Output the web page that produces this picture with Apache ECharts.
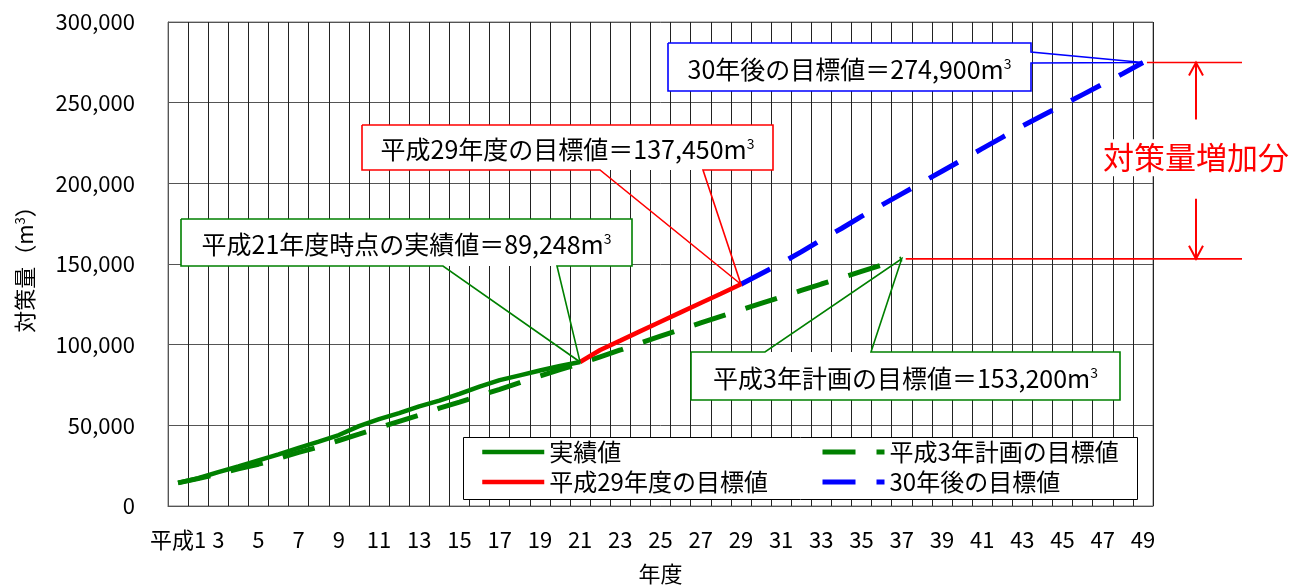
<!DOCTYPE html>
<html>
<head>
<meta charset="utf-8">
<script src="https://cdn.jsdelivr.net/npm/echarts@6/dist/echarts.min.js"></script>
<style>
  html, body { margin: 0; padding: 0; background: #fff; }
  #chart { width: 1302px; height: 585px; }
</style>
</head>
<body>
<div id="chart"></div>
<script>
  // 年度 (平成1 .. 49)
  const years = ['平成1', '2', '3', '4', '5', '6', '7', '8', '9', '10',
    '11', '12', '13', '14', '15', '16', '17', '18', '19', '20',
    '21', '22', '23', '24', '25', '26', '27', '28', '29', '30',
    '31', '32', '33', '34', '35', '36', '37', '38', '39', '40',
    '41', '42', '43', '44', '45', '46', '47', '48', '49']

  // 実績値 H1 - H21
  const actual = [14300, 17200, 21000, 24500, 28300, 32000, 36000, 39900, 44000, 49500,
    53800, 57600, 61800, 65300, 69500, 74000, 78000, 81000, 84000, 86800, 89248]
  const actualStart = 1

  // 平成29年度の目標値 H21 - H29
  const target29 = [89248, 96700, 102500, 108400, 114200, 120000, 125800, 131600, 137450]
  const target29Start = 21

  // 平成3年計画の目標値 H1 - H37
  const plan3 = [14300, 17000, 19800, 23000, 25900, 29500, 33200, 36600, 40600, 44500,
    48500, 52500, 56300, 60600, 64400, 68400, 72300, 76400, 80500, 84500,
    88200, 92500, 96700, 101000, 105300, 109400, 113500, 117600, 121600, 125600,
    129600, 133600, 137600, 141500, 145400, 149300, 153200]
  const plan3Start = 1

  // 30年後の目標値 H29 - H49
  const target30 = [137450, 144000, 150500, 157500, 165000, 172000, 179500, 186500, 193500, 200500,
    207500, 214500, 221500, 228500, 235500, 242000, 248500, 255000, 261500, 268000, 274900]
  const target30Start = 29

  const FONT = "'Noto Sans CJK JP', sans-serif"
  const GREEN = '#008000'
  const RED = '#ff0000'
  const BLUE = '#0000ff'
  const DASH = [33, 21]

  function toPairs (arr, start) {
    return arr.map(function (v, i) { return [start - 1 + i, v] })
  }

  let chart = echarts.init(document.getElementById('chart'))

  let legendBase = {
    orient: 'vertical',
    top: 440, padding: 0,
    itemWidth: 62, itemHeight: 14, itemGap: 6,
    selectedMode: false,
    itemStyle: { opacity: 0 },
    lineStyle: { width: 'inherit', type: 'inherit' },
    textStyle: { fontSize: 24, color: '#000', fontFamily: FONT },
    z: 20
  }

  let options = {
    animation: false,
    backgroundColor: '#fff',
    grid: {
      left: 168, right: 149, top: 22, bottom: 79,
      outerBoundsMode: 'none',
      show: true, borderColor: '#7f7f7f', borderWidth: 1
    },
    xAxis: {
      type: 'category',
      data: years,
      boundaryGap: true,
      name: '年度',
      nameLocation: 'middle',
      nameGap: 57,
      nameTextStyle: { fontSize: 22, color: '#000', fontFamily: FONT },
      axisLine: { lineStyle: { color: '#555' } },
      axisTick: { show: false, interval: 0 },
      axisLabel: { interval: 1, margin: 23, fontSize: 22, color: '#000', fontFamily: FONT },
      splitLine: { show: true, interval: 0, lineStyle: { color: '#222', width: 1 } }
    },
    yAxis: {
      type: 'value',
      min: 0,
      max: 300000,
      interval: 50000,
      name: '対策量（m{s|3}）',
      nameLocation: 'middle',
      nameRotate: 90,
      nameGap: 132,
      nameTextStyle: {
        fontSize: 22, color: '#000', fontFamily: FONT,
        rich: { s: { fontSize: 13, verticalAlign: 'top', color: '#000', fontFamily: FONT } }
      },
      axisLine: { show: true, lineStyle: { color: '#555' } },
      axisTick: { show: false },
      axisLabel: {
        margin: 33, fontSize: 22, color: '#000', fontFamily: FONT,
        formatter: function (v) { return v.toLocaleString('en-US') }
      },
      splitLine: { lineStyle: { color: '#555', width: 1 } }
    },
    legend: [
      Object.assign({}, legendBase, { data: ['実績値', '平成29年度の目標値'], left: 480 }),
      Object.assign({}, legendBase, { data: ['平成3年計画の目標値', '30年後の目標値'], left: 820 })
    ],
    series: [
      {
        name: '実績値', type: 'line', symbol: 'none', z: 4,
        data: toPairs(actual, actualStart),
        itemStyle: { color: GREEN },
        lineStyle: { color: GREEN, width: 4.5 }
      },
      {
        name: '平成29年度の目標値', type: 'line', symbol: 'none', z: 4,
        data: toPairs(target29, target29Start),
        itemStyle: { color: RED },
        lineStyle: { color: RED, width: 4.5 }
      },
      {
        name: '平成3年計画の目標値', type: 'line', symbol: 'none', z: 3,
        data: toPairs(plan3, plan3Start),
        itemStyle: { color: GREEN },
        lineStyle: { color: GREEN, width: 5, type: DASH }
      },
      {
        name: '30年後の目標値', type: 'line', symbol: 'none', z: 3,
        data: toPairs(target30, target30Start),
        itemStyle: { color: BLUE },
        lineStyle: { color: BLUE, width: 5, type: DASH }
      }
    ]
  }
  chart.setOption(options)

  // callout: box [x0, y0, x1, y1], pointer base on one side, tip at a data point
  function callout (box, side, base, tip, color, label) {
    let x0 = box[0], y0 = box[1], x1 = box[2], y1 = box[3]
    let pts
    if (side === 'bottom') {
      pts = [[x0, y0], [x1, y0], [x1, y1], [base[1], y1], tip, [base[0], y1], [x0, y1], [x0, y0]]
    } else if (side === 'top') {
      pts = [[x0, y0], [base[0], y0], tip, [base[1], y0], [x1, y0], [x1, y1], [x0, y1], [x0, y0]]
    } else {
      pts = [[x0, y0], [x1, y0], [x1, base[0]], tip, [x1, base[1]], [x1, y1], [x0, y1], [x0, y0]]
    }
    return [
      { type: 'rect', z: 10, silent: true,
        shape: { x: x0, y: y0, width: x1 - x0, height: y1 - y0 },
        style: { fill: '#fff', stroke: null } },
      { type: 'polyline', z: 11, silent: true,
        shape: { points: pts },
        style: { stroke: color, lineWidth: 1.6, fill: null } },
      { type: 'text', z: 12, silent: true,
        x: (x0 + x1) / 2, y: (y0 + y1) / 2 + 2,
        style: {
          text: '{t|' + label + 'm}{s|3}',
          align: 'center', verticalAlign: 'middle',
          fill: '#000', font: '25px ' + FONT,
          rich: {
            t: { fontSize: 25, fontFamily: FONT, fill: '#000' },
            s: { fontSize: 14, fontFamily: FONT, fill: '#000', verticalAlign: 'top' }
          }
        } }
    ]
  }

  function drawNotes () {
    let p21 = chart.convertToPixel({ gridIndex: 0 }, [target29Start - 1, target29[0]])
    let p29 = chart.convertToPixel({ gridIndex: 0 }, [target29Start - 1 + target29.length - 1, target29[target29.length - 1]])
    let p37 = chart.convertToPixel({ gridIndex: 0 }, [plan3Start - 1 + plan3.length - 1, plan3[plan3.length - 1]])
    let p49 = chart.convertToPixel({ gridIndex: 0 }, [target30Start - 1 + target30.length - 1, target30[target30.length - 1]])

    let topY = p49[1]
    let botY = p37[1]
    let ax = 1196

    let g = []
    g = g.concat(callout([181, 219, 632, 266], 'bottom', [443, 557], p21, GREEN, '平成21年度時点の実績値＝89,248'))
    g = g.concat(callout([362, 125, 773, 170], 'bottom', [600, 703], p29, RED, '平成29年度の目標値＝137,450'))
    g = g.concat(callout([668, 43, 1031, 91], 'right', [52, 63], p49, BLUE, '30年後の目標値＝274,900'))
    g = g.concat(callout([691, 352, 1120, 400], 'top', [765, 871], p37, GREEN, '平成3年計画の目標値＝153,200'))

    // 対策量増加分
    g.push(
      { type: 'line', z: 10, silent: true, shape: { x1: p49[0] + 4, y1: topY, x2: 1242, y2: topY }, style: { stroke: RED, lineWidth: 1.6 } },
      { type: 'line', z: 10, silent: true, shape: { x1: p37[0] + 4, y1: botY, x2: 1242, y2: botY }, style: { stroke: RED, lineWidth: 1.6 } },
      { type: 'line', z: 10, silent: true, shape: { x1: ax, y1: topY, x2: ax, y2: topY + 57 }, style: { stroke: RED, lineWidth: 2 } },
      { type: 'polyline', z: 10, silent: true, shape: { points: [[ax - 7, topY + 13], [ax, topY], [ax + 7, topY + 13]] }, style: { stroke: RED, lineWidth: 2, fill: null } },
      { type: 'line', z: 10, silent: true, shape: { x1: ax, y1: botY - 60, x2: ax, y2: botY }, style: { stroke: RED, lineWidth: 2 } },
      { type: 'polyline', z: 10, silent: true, shape: { points: [[ax - 7, botY - 13], [ax, botY], [ax + 7, botY - 13]] }, style: { stroke: RED, lineWidth: 2, fill: null } },
      { type: 'text', z: 12, silent: true, x: ax, y: (topY + botY) / 2 - 3,
        style: { text: '対策量増加分', align: 'center', verticalAlign: 'middle', fill: RED,
          font: '31px ' + FONT, backgroundColor: '#fff', padding: [3, 2] } }
    )

    // legend frame
    g.push({ type: 'rect', z: 15, silent: true,
      shape: { x: 463.5, y: 437.5, width: 674, height: 62 },
      style: { fill: '#fff', stroke: '#000', lineWidth: 1 } })

    chart.setOption({ graphic: g })
  }
  drawNotes()
</script>
</body>
</html>
